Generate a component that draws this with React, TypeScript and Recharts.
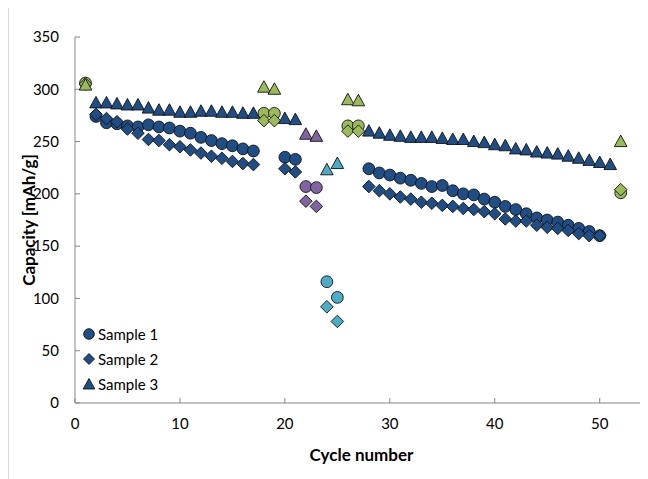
import React from 'react';
import { ScatterChart, Scatter, XAxis, YAxis, Legend } from 'recharts';

// Cycle numbers
const cycles12 = [1, 2, 3, 4, 5, 6, 7, 8, 9, 10, 11, 12, 13, 14, 15, 16, 17, 18, 19, 20, 21, 22, 23, 24, 25, 26, 27, 28, 29, 30, 31, 32, 33, 34, 35, 36, 37, 38, 39, 40, 41, 42, 43, 44, 45, 46, 47, 48, 49, 50, 52];
const cycles3 = [1, 2, 3, 4, 5, 6, 7, 8, 9, 10, 11, 12, 13, 14, 15, 16, 17, 18, 19, 20, 21, 22, 23, 24, 25, 26, 27, 28, 29, 30, 31, 32, 33, 34, 35, 36, 37, 38, 39, 40, 41, 42, 43, 44, 45, 46, 47, 48, 49, 50, 51, 52];

// Capacity values [mAh/g]
const sample1 = [306, 274, 268, 267, 265, 264, 266, 264, 263, 260, 258, 254, 251, 248, 246, 243, 241, 277, 277, 235, 233, 207, 206, 116, 101, 265, 265, 224, 220, 218, 215, 213, 210, 207, 208, 203, 200, 199, 195, 192, 188, 185, 181, 177, 175, 173, 170, 167, 164, 160, 201];
const sample2 = [305, 276, 272, 269, 262, 258, 252, 251, 247, 245, 242, 239, 236, 234, 231, 229, 228, 270, 270, 224, 221, 193, 188, 92, 78, 260, 260, 207, 203, 200, 197, 195, 192, 191, 189, 188, 186, 185, 183, 181, 176, 174, 174, 170, 168, 167, 165, 162, 160, 160, 204];
const sample3 = [304, 287, 287, 286, 285, 285, 282, 280, 280, 278, 278, 279, 279, 278, 278, 277, 277, 302, 300, 272, 271, 257, 255, 223, 229, 290, 289, 260, 258, 256, 255, 254, 254, 254, 253, 252, 252, 250, 249, 247, 246, 243, 242, 240, 239, 238, 236, 234, 232, 230, 228, 250];

// Test-condition groups (by cycle)
const greenCycles = [1, 18, 19, 26, 27, 52];
const purpleCycles = [22, 23];
const cyanCycles = [24, 25];

const xTicks = [0, 10, 20, 30, 40, 50];
const yTicks = [0, 50, 100, 150, 200, 250, 300, 350];
const seriesNames = ['Sample 1', 'Sample 2', 'Sample 3'];

const BLUE = '#1f4e87';
const GREEN = '#9bbb59';
const PURPLE = '#8064a2';
const CYAN = '#4bacc6';
const STROKE = '#111';
const FONT = 'Lato, "Open Sans", sans-serif';

const colorFor = (c: number) =>
  greenCycles.includes(c) ? GREEN : purpleCycles.includes(c) ? PURPLE : cyanCycles.includes(c) ? CYAN : BLUE;

const build = (cs: number[], vs: number[]) => cs.map((c, i) => ({ cycle: c, cap: vs[i] }));
const data1 = build(cycles12, sample1);
const data2 = build(cycles12, sample2);
const data3 = build(cycles3, sample3);

const CircleShape = (p: any) => (
  <circle cx={p.cx} cy={p.cy} r={5.9} fill={colorFor(p.payload.cycle)} stroke={STROKE} strokeWidth={0.9} />
);
const DiamondShape = (p: any) => {
  const r = 6.3;
  const { cx, cy } = p;
  return (
    <polygon
      points={`${cx},${cy - r} ${cx + r},${cy} ${cx},${cy + r} ${cx - r},${cy}`}
      fill={colorFor(p.payload.cycle)}
      stroke={STROKE}
      strokeWidth={0.9}
    />
  );
};
const TriangleShape = (p: any) => {
  const { cx, cy } = p;
  return (
    <polygon
      points={`${cx},${cy - 6.5} ${cx + 6.3},${cy + 5} ${cx - 6.3},${cy + 5}`}
      fill={colorFor(p.payload.cycle)}
      stroke={STROKE}
      strokeWidth={0.9}
    />
  );
};

const LegendIcon = ({ kind }: { kind: number }) => (
  <svg width={14} height={14} style={{ marginRight: 2 }}>
    {kind === 0 && <circle cx={7} cy={7} r={5.3} fill={BLUE} stroke={STROKE} strokeWidth={0.9} />}
    {kind === 1 && <polygon points="7,1.5 12.5,7 7,12.5 1.5,7" fill={BLUE} stroke={STROKE} strokeWidth={0.9} />}
    {kind === 2 && <polygon points="7,1.5 12.8,12 1.2,12" fill={BLUE} stroke={STROKE} strokeWidth={0.9} />}
  </svg>
);

const LegendContent = () => (
  <div style={{ fontFamily: FONT, fontSize: 15, color: '#000' }}>
    {seriesNames.map((n, i) => (
      <div key={n} style={{ display: 'flex', alignItems: 'center', height: 25 }}>
        <LegendIcon kind={i} />
        <span>{n}</span>
      </div>
    ))}
  </div>
);

export default function App() {
  return (
    <div style={{ width: 639, height: 471, borderLeft: '1px solid #d9d9d9', background: '#fff' }}>
      <ScatterChart width={639} height={471} margin={{ top: 29, right: 0, bottom: 0, left: 0 }}>
        <XAxis
          type="number"
          dataKey="cycle"
          domain={[0, 54.6]}
          ticks={xTicks}
          allowDataOverflow
          height={76}
          stroke="#868686"
          tickSize={-5}
          tickMargin={20}
          tick={{ fill: '#000', fontSize: 15, fontFamily: FONT }}
          label={{
            value: 'Cycle number',
            position: 'insideBottom',
            offset: 18,
            style: { fontFamily: FONT, fontSize: 17, fontWeight: 'bold', fill: '#000' },
          }}
        />
        <YAxis
          type="number"
          dataKey="cap"
          domain={[0, 350]}
          ticks={yTicks}
          width={66}
          stroke="#868686"
          tickSize={-5}
          tickMargin={21}
          tick={{ fill: '#000', fontSize: 15, fontFamily: FONT }}
          label={{
            value: 'Capacity [mAh/g]',
            angle: -90,
            position: 'insideLeft',
            offset: 20,
            style: { textAnchor: 'middle', fontFamily: FONT, fontSize: 17, fontWeight: 'bold', fill: '#000' },
          }}
        />
        <Legend
          layout="vertical"
          align="center"
          verticalAlign="middle"
          content={<LegendContent />}
          wrapperStyle={{ position: 'absolute', left: 73, top: 313, width: 110, height: 80 }}
        />
        <Scatter name="Sample 1" data={data1} shape={CircleShape} isAnimationActive={false} />
        <Scatter name="Sample 2" data={data2} shape={DiamondShape} isAnimationActive={false} />
        <Scatter name="Sample 3" data={data3} shape={TriangleShape} isAnimationActive={false} />
      </ScatterChart>
    </div>
  );
}
